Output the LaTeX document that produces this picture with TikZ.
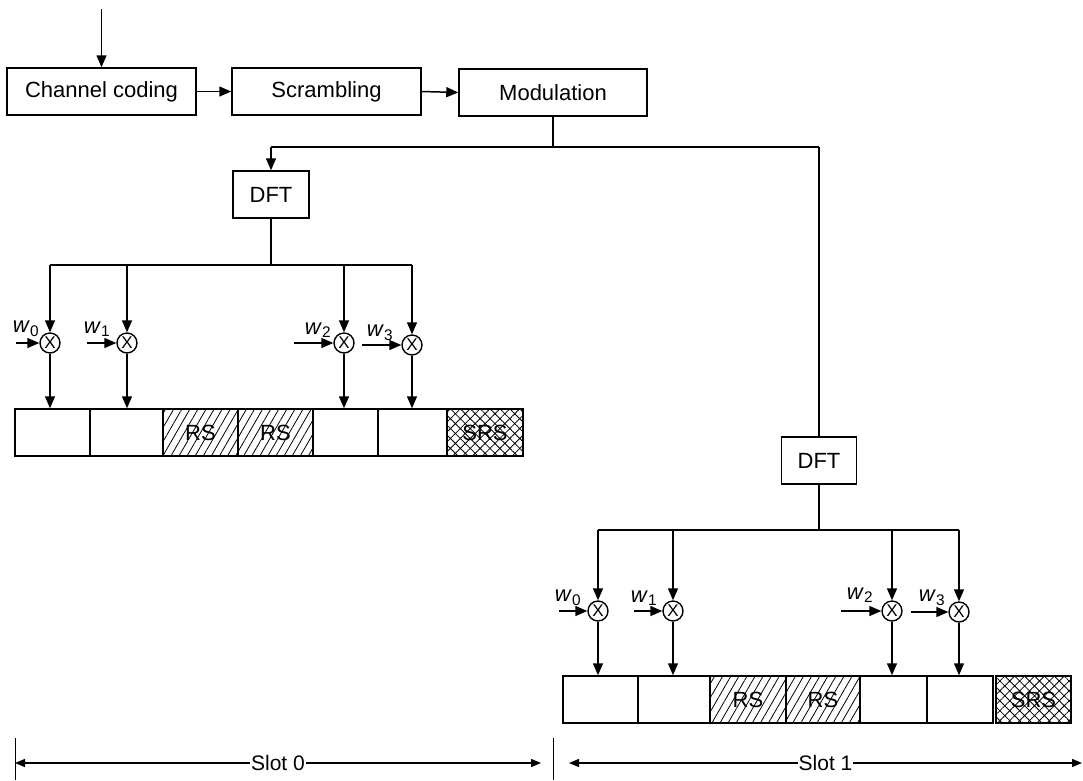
\documentclass[tikz,border=0pt]{standalone}
\usepackage{fontspec}
\setmainfont{Liberation Sans}
\usetikzlibrary{arrows.meta,patterns.meta}

\begin{document}
\begin{tikzpicture}[
    x=1pt, y=-1pt,
    block/.style={
        rectangle,
        draw=black,
        line width=1.5pt,
        minimum height=47pt,
        inner sep=0pt,
        font=\fontsize{22}{26}\selectfont
    },
    mult/.style={circle, draw=black, line width=1.4pt, minimum size=20pt, inner sep=0pt, font=\fontsize{17}{17}\selectfont},
    cell/.style={rectangle, draw=black, line width=1.5pt, minimum height=47pt, inner sep=0pt, font=\fontsize{22}{26}\selectfont},
    rscell/.style={cell, pattern={Lines[angle=60,distance=7pt,line width=0.8pt]}},
    srscell/.style={cell, pattern={Hatch[angle=45,distance=7pt,line width=0.8pt]}},
    wire/.style={line width=1.5pt},
    arrow/.style={-{Triangle[length=12pt,width=10pt]}, line width=1.5pt},
    wlabel/.style={font=\fontsize{22}{22}\selectfont, inner sep=0pt},
    slotarrow/.style={{Triangle[length=10pt,width=8pt]}-{Triangle[length=10pt,width=8pt]}, line width=1.4pt},
    slotlabel/.style={fill=white, inner sep=1pt, font=\fontsize{21}{21}\selectfont}
]
\useasboundingbox (0,0) rectangle (1083,780);

% processing chain
\coordinate (src) at (101.5,9);
\node[block, minimum width=189pt] (chcoding) at (101.5,91.5) {Channel coding};
\node[block, minimum width=189pt] (scramble) at (326.5,91.5) {Scrambling};
\node[block, minimum width=188pt] (modul) at (553,92.5) {Modulation};

\draw[arrow] (src) -- (chcoding);
\draw[arrow] (chcoding.east) -- (scramble.west);
\draw[arrow] (scramble.east) -- (modul.west);

% split to both slots
\coordinate (modtap) at (553,147);
\node[block, minimum width=76pt] (dftA) at (271,194.5) {DFT};
\node[block, minimum width=75pt] (dftB) at (819,460.5) {DFT};

\draw[wire] (modul) -- (modtap);
\draw[wire] (dftA |- modtap) -- (dftB |- modtap);
\draw[arrow] (dftA |- modtap) -- (dftA);
\draw[wire] (dftB |- modtap) -- (dftB);

% slot 0
\coordinate (busA) at (271,265);
\node[mult] (mA0) at (50,343) {X};
\node[mult] (mA1) at (127,343) {X};
\node[mult] (mA2) at (344,343) {X};
\node[mult] (mA3) at (412,345) {X};

\node[cell, minimum width=75pt] (cA1) at (52.5,432.5) {};
\node[cell, minimum width=73pt] (cA2) at (126.5,432.5) {};
\node[rscell, minimum width=75pt] (cA3) at (200.5,432.5) {RS};
\node[rscell, minimum width=75pt] (cA4) at (275.5,432.5) {RS};
\node[cell, minimum width=65pt] (cA5) at (345.5,432.5) {};
\node[cell, minimum width=69pt] (cA6) at (412.5,432.5) {};
\node[srscell, minimum width=76pt] (cA7) at (485,432.5) {SRS};

\draw[wire] (dftA) -- (busA);
\draw[wire] (mA0 |- busA) -- (mA3 |- busA);
\draw[arrow] (mA0 |- busA) -- (mA0);
\draw[arrow] (mA1 |- busA) -- (mA1);
\draw[arrow] (mA2 |- busA) -- (mA2);
\draw[arrow] (mA3 |- busA) -- (mA3);

\draw[arrow] (mA0) -- (mA0 |- cA1.north);
\draw[arrow] (mA1) -- (mA1 |- cA2.north);
\draw[arrow] (mA2) -- (mA2 |- cA5.north);
\draw[arrow] (mA3) -- (mA3 |- cA6.north);

\draw[arrow] ([xshift=-23pt]mA0.west) -- (mA0.west);
\draw[arrow] ([xshift=-29pt]mA1.west) -- (mA1.west);
\draw[arrow] ([xshift=-39pt]mA2.west) -- (mA2.west);
\draw[arrow] ([xshift=-39pt]mA3.west) -- (mA3.west);

\node[wlabel] (wA0) at (26,329) {\textit{w}\textsubscript{0}};
\node[wlabel] (wA1) at (97,329) {\textit{w}\textsubscript{1}};
\node[wlabel] (wA2) at (318,330) {\textit{w}\textsubscript{2}};
\node[wlabel] (wA3) at (380,333) {\textit{w}\textsubscript{3}};

% slot 1
\coordinate (busB) at (819,530);
\node[mult] (mB0) at (598,611) {X};
\node[mult] (mB1) at (673,611) {X};
\node[mult] (mB2) at (892,611) {X};
\node[mult] (mB3) at (959,612) {X};

\node[cell, minimum width=75pt] (cB1) at (600.5,699.5) {};
\node[cell, minimum width=72pt] (cB2) at (674,699.5) {};
\node[rscell, minimum width=76pt] (cB3) at (748,699.5) {RS};
\node[rscell, minimum width=74pt] (cB4) at (823,699.5) {RS};
\node[cell, minimum width=67pt] (cB5) at (893.5,699.5) {};
\node[cell, minimum width=66pt] (cB6) at (960,699.5) {};
\node[srscell, minimum width=75pt] (cB7) at (1033.5,699.5) {SRS};

\draw[wire] (dftB) -- (busB);
\draw[wire] (mB0 |- busB) -- (mB3 |- busB);
\draw[arrow] (mB0 |- busB) -- (mB0);
\draw[arrow] (mB1 |- busB) -- (mB1);
\draw[arrow] (mB2 |- busB) -- (mB2);
\draw[arrow] (mB3 |- busB) -- (mB3);

\draw[arrow] (mB0) -- (mB0 |- cB1.north);
\draw[arrow] (mB1) -- (mB1 |- cB2.north);
\draw[arrow] (mB2) -- (mB2 |- cB5.north);
\draw[arrow] (mB3) -- (mB3 |- cB6.north);

\draw[arrow] ([xshift=-28pt]mB0.west) -- (mB0.west);
\draw[arrow] ([xshift=-28pt]mB1.west) -- (mB1.west);
\draw[arrow] ([xshift=-40pt]mB2.west) -- (mB2.west);
\draw[arrow] ([xshift=-37pt]mB3.west) -- (mB3.west);

\node[wlabel] (wB0) at (568,598) {\textit{w}\textsubscript{0}};
\node[wlabel] (wB1) at (644,598) {\textit{w}\textsubscript{1}};
\node[wlabel] (wB2) at (860,595) {\textit{w}\textsubscript{2}};
\node[wlabel] (wB3) at (932,598) {\textit{w}\textsubscript{3}};

% slot durations
\coordinate (tickL0) at (15,738);
\coordinate (tickL1) at (15,780);
\coordinate (tickM0) at (553,738);
\coordinate (tickM1) at (553,780);
\coordinate (s0l) at (15,763);
\coordinate (s0r) at (541,763);
\coordinate (s1l) at (569,763);
\coordinate (s1r) at (1082,763);

\draw[line width=0.8pt] (tickL0) -- (tickL1);
\draw[line width=0.8pt] (tickM0) -- (tickM1);
\draw[slotarrow] (s0l) -- node[slotlabel] (slot0) {Slot 0} (s0r);
\draw[slotarrow] (s1l) -- node[slotlabel] (slot1) {Slot 1} (s1r);

\end{tikzpicture}
\end{document}
